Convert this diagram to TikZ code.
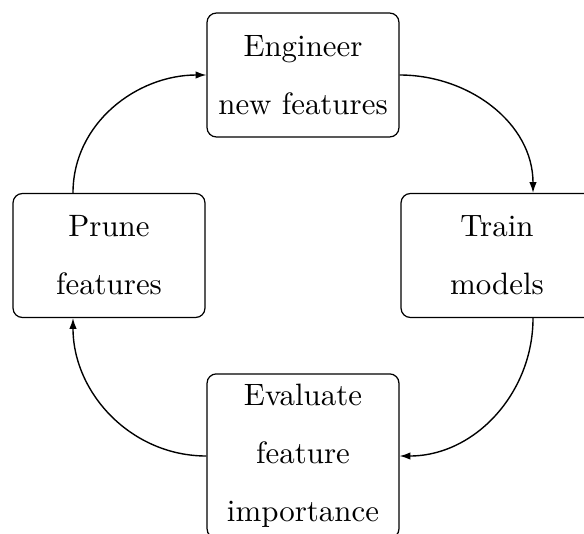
\documentclass[tikz,border=0pt]{standalone}
\usetikzlibrary{arrows.meta}
\begin{document}
\begin{tikzpicture}[x=0.3236pt,y=-0.3236pt,
  stage/.style={draw, rounded corners=3pt, align=center,
    minimum width=62.1pt, minimum height=40.1pt, inner sep=3.33pt,
    font=\fontsize{10}{18.8}\selectfont},
  flow/.style={-{Latex[length=3.5pt,width=2.4pt]}, line width=0.45pt}]
\useasboundingbox (0,0) rectangle (584,533);
\node[stage] (engineer) at (303,75)    {Engineer\\new features};
\node[stage] (train)    at (497,255.5) {Train\\models};
\node[stage] (evaluate) at (303,456)   {Evaluate\\feature\\importance};
\node[stage] (prune)    at (109,255.5) {Prune\\features};
\draw[flow] (engineer.east) to[out=0,in=90] ([xshift=11.65pt]train.north);
\draw[flow] ([xshift=11.65pt]train.south) to[out=-90,in=0] (evaluate.east);
\draw[flow] (evaluate.west) to[out=180,in=-90] ([xshift=-11.65pt]prune.south);
\draw[flow] ([xshift=-11.65pt]prune.north) to[out=90,in=180] (engineer.west);
\end{tikzpicture}
\end{document}
